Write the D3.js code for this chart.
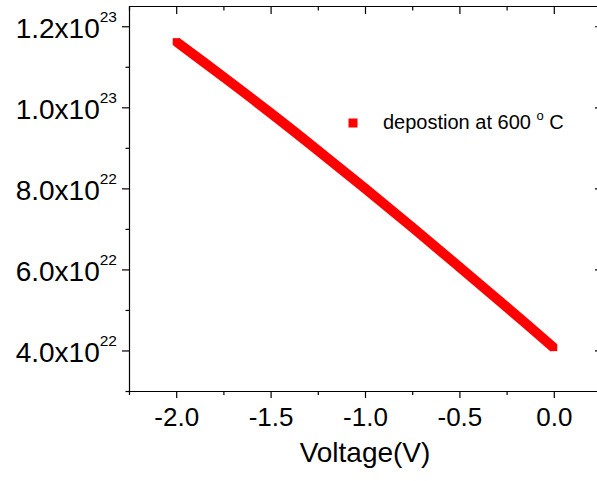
<!DOCTYPE html>
<html>
<head>
<meta charset="utf-8">
<script src="https://cdn.jsdelivr.net/npm/d3@7/dist/d3.min.js"></script>
<style>
  html, body { margin: 0; padding: 0; background: #fff; }
  svg { display: block; font-family: "Liberation Sans", Arial, sans-serif; }
</style>
</head>
<body>
<svg id="chart" width="597" height="481"></svg>
<script>
// Carrier density versus applied voltage
const voltage = [-2.0, -1.75, -1.5, -1.25, -1.0, -0.75, -0.5, -0.25, 0.0];
const density = [1.162e23, 1.075e23, 9.86e22, 8.94e22, 8.00e22, 7.04e22, 6.06e22, 5.07e22, 4.07e22];

const xTicks = [-2.0, -1.5, -1.0, -0.5, 0.0];
const xMinorTicks = [-2.25, -1.75, -1.25, -0.75, -0.25, 0.25];
const yTicks = [4.0e22, 6.0e22, 8.0e22, 1.0e23, 1.2e23];
const yTickMantissa = ["4.0x10", "6.0x10", "8.0x10", "1.0x10", "1.2x10"];
const yTickExponent = ["22", "22", "22", "23", "23"];
const yMinorTicks = [3.0e22, 5.0e22, 7.0e22, 9.0e22, 1.1e23];

const seriesName = "depostion at 600 ";
const xTitle = "Voltage(V)";

const svg = d3.select("#chart");
const plotLeft = 129, plotRight = 601, plotTop = 6, plotBottom = 391;

const x = d3.scaleLinear().domain([-2.25, 0.25]).range([plotLeft, plotRight]);
const y = d3.scaleLinear().domain([3.0e22, 1.25e23]).range([plotBottom, plotTop]);

function styleAxis(g) {
  g.select(".domain").attr("stroke", "#000").attr("stroke-width", 1.2);
  g.selectAll(".tick line").attr("stroke", "#000").attr("stroke-width", 1.2);
}
function minorStyle(g) {
  g.select(".domain").remove();
  g.selectAll("line").attr("stroke", "#000").attr("stroke-width", 1.2);
}

// Bottom axis (outward ticks)
const gx = svg.append("g").attr("transform", `translate(0,${plotBottom})`)
  .call(d3.axisBottom(x).tickValues(xTicks).tickSize(7).tickSizeOuter(0)
    .tickFormat(d3.format(".1f")));
styleAxis(gx);
gx.selectAll(".tick text").attr("font-size", 26).attr("fill", "#000")
  .attr("font-family", "Liberation Sans, Arial, sans-serif").attr("dy", null).attr("y", 34.7)
  .text(d => d3.format(".1f")(d).replace("\u2212", "-"));
svg.append("g").attr("transform", `translate(0,${plotBottom})`)
  .call(d3.axisBottom(x).tickValues(xMinorTicks).tickSize(4).tickSizeOuter(0).tickFormat(""))
  .call(minorStyle);

// Top mirror axis (inward ticks)
const gt = svg.append("g").attr("transform", `translate(0,${plotTop})`)
  .call(d3.axisBottom(x).tickValues(xTicks).tickSize(8).tickSizeOuter(0).tickFormat(""));
styleAxis(gt);
svg.append("g").attr("transform", `translate(0,${plotTop})`)
  .call(d3.axisBottom(x).tickValues(xMinorTicks).tickSize(4.5).tickSizeOuter(0).tickFormat(""))
  .call(minorStyle);

// Left axis (outward ticks)
const gy = svg.append("g").attr("transform", `translate(${plotLeft},0)`)
  .call(d3.axisLeft(y).tickValues(yTicks).tickSize(7).tickSizeOuter(0).tickFormat(""));
styleAxis(gy);
gy.selectAll(".tick").each(function(d, i) {
  const t = d3.select(this).append("text")
    .attr("x", -12).attr("y", 11)
    .attr("text-anchor", "end").attr("fill", "#000")
    .attr("font-size", 28);
  t.append("tspan").text(yTickMantissa[i]);
  t.append("tspan").attr("font-size", 15.5).attr("dy", -15.5).text(yTickExponent[i]);
});
svg.append("g").attr("transform", `translate(${plotLeft},0)`)
  .call(d3.axisLeft(y).tickValues(yMinorTicks).tickSize(3.5).tickSizeOuter(0).tickFormat(""))
  .call(minorStyle);

// Right mirror axis (inward ticks)
const gr = svg.append("g").attr("transform", `translate(${plotRight},0)`)
  .call(d3.axisRight(y).tickValues(yTicks).tickSize(-6).tickSizeOuter(0).tickFormat(""));
styleAxis(gr);
svg.append("g").attr("transform", `translate(${plotRight},0)`)
  .call(d3.axisRight(y).tickValues(yMinorTicks).tickSize(-3.5).tickSizeOuter(0).tickFormat(""))
  .call(minorStyle);

// Series: thick band of square markers
const pts = voltage.map((v, i) => [v, density[i]]);
const red = "#ff0000";
const markerSide = 7;
svg.append("path")
  .datum(pts)
  .attr("fill", "none").attr("stroke", red)
  .attr("stroke-width", markerSide * 1.41)
  .attr("stroke-linejoin", "round")
  .attr("d", d3.line().x(d => x(d[0])).y(d => y(d[1])).curve(d3.curveCatmullRom));
svg.append("g").selectAll("rect").data(pts).join("rect")
  .attr("x", d => x(d[0]) - markerSide / 2)
  .attr("y", d => y(d[1]) - markerSide / 2)
  .attr("width", markerSide).attr("height", markerSide)
  .attr("fill", red);

// Legend
const lg = svg.append("g").attr("transform", "translate(353,123)");
lg.append("rect").attr("x", -4.5).attr("y", -4.5).attr("width", 9).attr("height", 9).attr("fill", red);
const lt = lg.append("text").attr("x", 30).attr("y", 6.3).attr("font-size", 20).attr("fill", "#000");
lt.append("tspan").text(seriesName);
lt.append("tspan").attr("font-size", 13).attr("dy", -9).text("o");
lt.append("tspan").attr("dy", 9).text(" C");

// X axis title
svg.append("text")
  .attr("x", x(-1.0)).attr("y", 461.7)
  .attr("text-anchor", "middle").attr("font-size", 28).attr("fill", "#000")
  .text(xTitle);
</script>
</body>
</html>
